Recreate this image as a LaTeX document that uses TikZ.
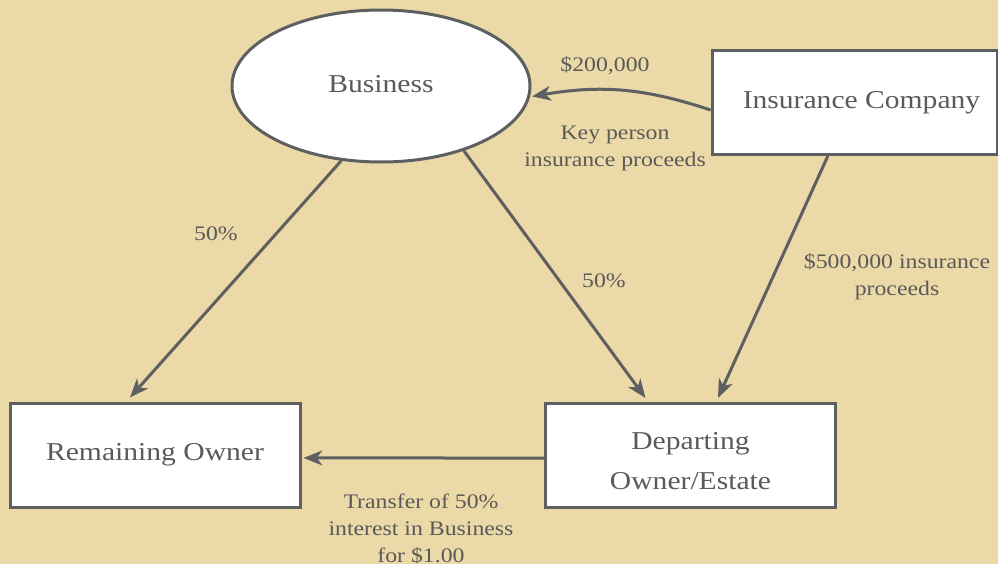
\documentclass[tikz,border=0pt]{standalone}
\usepackage{fontspec}
\setmainfont{Liberation Serif}[FakeStretch=1.15]
\usepackage{tikz}
\usetikzlibrary{arrows.meta}
\usetikzlibrary{shapes.geometric}

\definecolor{sand}{HTML}{EBD9A7}
\definecolor{edge}{HTML}{5E5F61}
\definecolor{ink}{HTML}{5A5A5A}

\begin{document}
\begin{tikzpicture}[x=0.75pt, y=-0.75pt,
    party/.style={draw=edge, fill=white, line width=2.25pt, inner sep=0pt,
        minimum width=217.5pt, minimum height=78pt, text=ink, align=center,
        font=\fontsize{19.3}{30}\selectfont},
    flow/.style={draw=edge, line width=2.25pt, -{Stealth[length=14pt, width=11pt, inset=4pt]}},
    lbl/.style={text=ink, align=center, inner sep=0pt, font=\fontsize{15.5}{20.2}\selectfont}]

% Hintergrund
\fill[sand] (0, 0) rectangle (998, 564);
\useasboundingbox (0, 0) rectangle (998, 564);

% Knoten
\node[ellipse, draw=edge, fill=white, line width=2.25pt, inner sep=0pt,
    minimum width=223.5pt, minimum height=114pt, text=ink,
    font=\fontsize{19.3}{30}\selectfont] (bus) at (381, 86)
    {\raisebox{1.5pt}[\height][\depth]{Business}};
\node[party, minimum width=213.75pt] (ins) at (854.5, 102.5) {\hspace*{10.5pt}Insurance Company};
\node[party] (rem) at (155, 455) {Remaining Owner};
\node[party] (dep) at (690.5, 455.5)
    {\raisebox{-4.5pt}[\height][\depth]{\begin{tabular}{@{}c@{}}Departing\\Owner/Estate\end{tabular}}};

% Pfeile
\draw[flow] (bus.242) -- ([xshift=-18.75pt, yshift=3pt]rem.north);
\draw[flow] (bus.322) -- ([xshift=-33.75pt, yshift=3pt]dep.north);
\draw[flow] ([xshift=-20pt]ins.south) -- ([xshift=20.6pt, yshift=3pt]dep.north);
\draw[flow] ([yshift=-5.6pt]ins.west) to[bend right=14] ([xshift=1.5pt]bus.356);
\draw[flow] ([yshift=-1.9pt]dep.west) -- ([xshift=1.5pt, yshift=-2.2pt]rem.east);

% Beschriftungen
\node[lbl] (p1) at (216, 234) {50\%};
\node[lbl] (p2) at (604, 281) {50\%};
\node[lbl] (amt) at (605, 66) {\$200,000};
\node[lbl] (key) at (615, 148) {Key person\\insurance proceeds};
\node[lbl] (big) at (897, 277) {\$500,000 insurance\\proceeds};
\node[lbl] (trf) at (421, 529) {Transfer of 50\%\\interest in Business\\for \$1.00};

\end{tikzpicture}
\end{document}
